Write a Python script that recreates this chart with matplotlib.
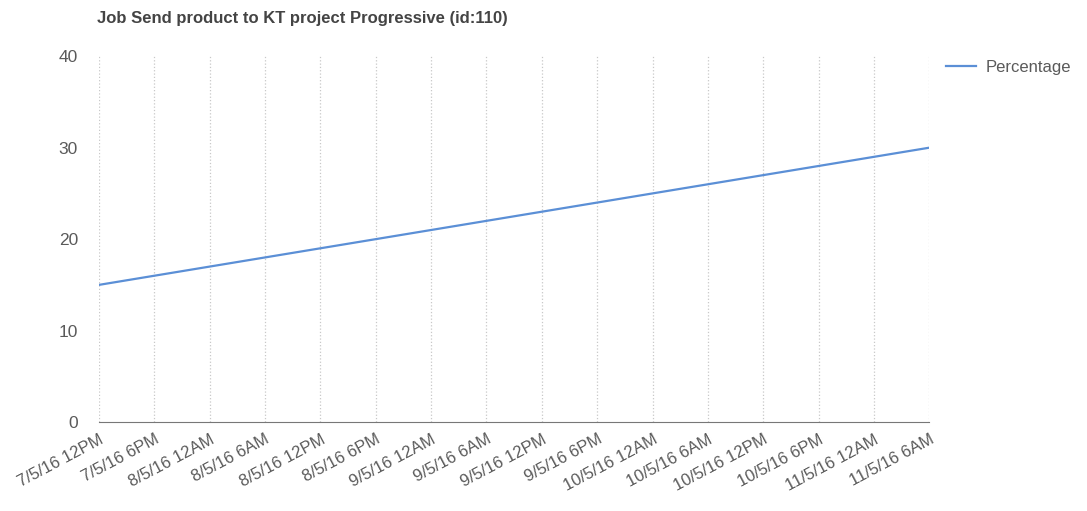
import matplotlib.pyplot as plt

plt.rcParams['font.family'] = ['Liberation Sans', 'DejaVu Sans']

# data
labels = ['7/5/16 12PM', '7/5/16 6PM', '8/5/16 12AM', '8/5/16 6AM', '8/5/16 12PM',
          '8/5/16 6PM', '9/5/16 12AM', '9/5/16 6AM', '9/5/16 12PM', '9/5/16 6PM',
          '10/5/16 12AM', '10/5/16 6AM', '10/5/16 12PM', '10/5/16 6PM',
          '11/5/16 12AM', '11/5/16 6AM']
percentage = [15, 16, 17, 18, 19, 20, 21, 22, 23, 24, 25, 26, 27, 28, 29, 30]

fig = plt.figure(figsize=(10.87, 5.11), dpi=100)
ax = fig.add_axes([0.091, 0.174, 0.764, 0.716])

x = list(range(len(labels)))
ax.plot(x, percentage, color='#5b8fd6', lw=1.6, label='Percentage')

ax.set_xlim(0, len(labels) - 1)
ax.set_ylim(0, 40)
ax.set_yticks([0, 10, 20, 30, 40])
ax.set_xticks(x)
ax.set_xticklabels(labels, rotation=28, ha='right', rotation_mode='anchor')
ax.grid(axis='x', color='#c8c8c8', ls=':', lw=0.9)
ax.tick_params(length=0, colors='#5a5a5a', labelsize=12)
ax.tick_params(axis='y', pad=15, labelsize=12.5)
ax.tick_params(axis='x', pad=7)

for s in ['top', 'right', 'left']:
    ax.spines[s].set_visible(False)
ax.spines['bottom'].set_color('#777777')

fig.text(0.089, 0.955, 'Job Send product to KT project Progressive (id:110)',
         fontsize=12, fontweight='bold', color='#444444')

ax.legend(loc='upper left', bbox_to_anchor=(1.02, 0.99), frameon=False,
          handlelength=1.8, handletextpad=0.6, borderaxespad=0, borderpad=0,
          fontsize=12, labelcolor='#5a5a5a')

fig.savefig('out.png', dpi=100)
